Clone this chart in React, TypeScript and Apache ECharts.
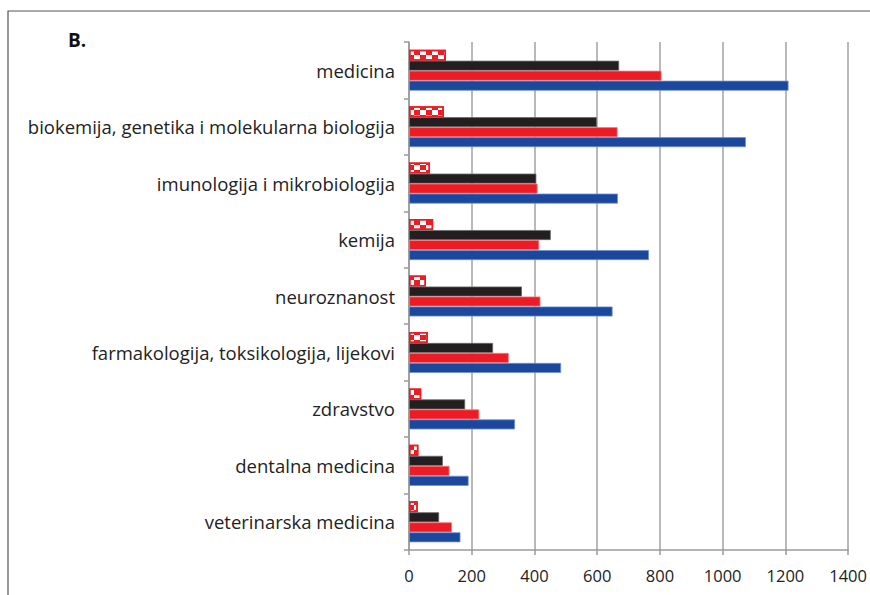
import React, { useEffect, useRef } from "react";
import * as echarts from "echarts";

const categories = [
  "medicina",
  "biokemija, genetika i molekularna biologija",
  "imunologija i mikrobiologija",
  "kemija",
  "neuroznanost",
  "farmakologija, toksikologija, lijekovi",
  "zdravstvo",
  "dentalna medicina",
  "veterinarska medicina",
];
const patternValues = [118, 111, 67, 77, 54, 60, 39, 30, 28];
const blackValues = [670, 599, 406, 452, 360, 268, 179, 108, 96];
const redValues = [805, 665, 410, 415, 419, 318, 224, 129, 137];
const blueValues = [1210, 1074, 666, 765, 649, 485, 338, 190, 164];
const xTicks = [0, 200, 400, 600, 800, 1000, 1200, 1400];

const FONT = "Open Sans";

export default function App() {
  const ref = useRef<HTMLDivElement>(null);
  useEffect(() => {
    const chart = echarts.init(ref.current!, null, { renderer: "svg" });
    chart.setOption({
      animation: false,
      grid: { left: 409, right: 21, top: 42, bottom: 45, containLabel: false },
      graphic: [
        {
          type: "rect",
          shape: { x: 8, y: 11, width: 900, height: 620 },
          style: { fill: "none", stroke: "#555", lineWidth: 1.2 },
          silent: true,
        },
        {
          type: "text",
          left: 68,
          top: 30,
          style: { text: "B.", font: `bold 19px ${FONT}`, fill: "#111" },
        },
      ],
      xAxis: {
        type: "value",
        min: xTicks[0],
        max: xTicks[xTicks.length - 1],
        interval: 200,
        axisLine: { show: true, lineStyle: { color: "#9a9a9a", width: 1.5 } },
        axisTick: { show: true, length: 5, lineStyle: { color: "#9a9a9a", width: 1.5 } },
        splitLine: { show: true, lineStyle: { color: "#a2a2a2", width: 1.5 } },
        axisLabel: {
          fontFamily: FONT,
          fontSize: 16.5,
          color: "#222",
          margin: 17,
          formatter: (v: number) => String(v),
        },
      },
      yAxis: {
        type: "category",
        data: categories,
        inverse: true,
        axisLine: { show: true, lineStyle: { color: "#9a9a9a", width: 1.5 } },
        axisTick: { show: true, length: 5, lineStyle: { color: "#9a9a9a", width: 1.5 } },
        axisLabel: { fontFamily: FONT, fontSize: 18.5, color: "#222", margin: 14 },
      },
      series: [
        {
          type: "bar",
          name: "pattern",
          data: patternValues,
          barWidth: 11,
          barGap: "0%",
          itemStyle: {
            color: "#ffffff",
            borderColor: "#ed1c24",
            borderWidth: 1.5,
            decal: {
              symbol: "rect",
              symbolSize: 1,
              color: "#ed1c24",
              backgroundColor: "#ffffff",
              dashArrayX: [[6, 6], [0, 6, 6, 0]],
              dashArrayY: [5, 0],
              rotation: 0,
            },
          },
        },
        {
          type: "bar",
          name: "black",
          data: blackValues,
          barWidth: 10,
          barGap: "0%",
          itemStyle: { color: "#231f20", borderColor: "#6a6a6a", borderWidth: 0.8 },
        },
        {
          type: "bar",
          name: "red",
          data: redValues,
          barWidth: 10,
          barGap: "0%",
          itemStyle: { color: "#ed1c24", borderColor: "#f27a7e", borderWidth: 0.8 },
        },
        {
          type: "bar",
          name: "blue",
          data: blueValues,
          barWidth: 10,
          barGap: "0%",
          itemStyle: { color: "#1b479d", borderColor: "#6f8fcf", borderWidth: 0.8 },
        },
      ],
    });
    return () => chart.dispose();
  }, []);
  return (
    <div
      ref={ref}
      style={{ position: "absolute", left: 0, top: 0, width: 870, height: 595, background: "#fff" }}
    />
  );
}
